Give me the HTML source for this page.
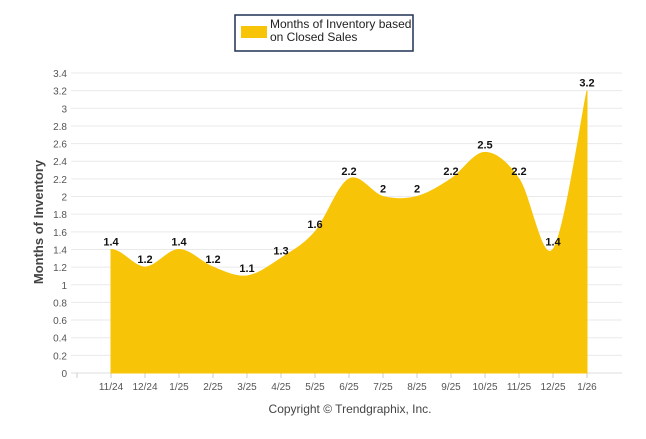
<!DOCTYPE html>
<html><head><meta charset="utf-8"><style>
body{margin:0;background:#fff;width:646px;height:434px;overflow:hidden;font-family:"Liberation Sans",sans-serif}
</style></head><body>
<svg id="c" width="646" height="434" xmlns="http://www.w3.org/2000/svg">
<g>
<rect x="235" y="15" width="178" height="36" fill="#fff" stroke="#1f3056" stroke-width="1.5"/>
<rect x="241" y="26" width="26" height="12" fill="#f7c407"/>
<text x="270" y="28" font-size="12" fill="#222">Months of Inventory based</text>
<text x="270" y="41" font-size="12" fill="#222">on Closed Sales</text>
</g>
<g id="grid"></g><g id="area"></g><g id="labels"></g>
<text transform="translate(43,222) rotate(-90)" text-anchor="middle" font-size="13" font-weight="bold" fill="#444">Months of Inventory</text>
<text x="350" y="413" text-anchor="middle" font-size="12" fill="#444">Copyright © Trendgraphix, Inc.</text>
</svg>
<script>
const categories=["11/24","12/24","1/25","2/25","3/25","4/25","5/25","6/25","7/25","8/25","9/25","10/25","11/25","12/25","1/26"];
const values=[1.4,1.2,1.4,1.2,1.1,1.3,1.6,2.2,2,2,2.2,2.5,2.2,1.4,3.2];
const yTicks=[0,0.2,0.4,0.6,0.8,1,1.2,1.4,1.6,1.8,2,2.2,2.4,2.6,2.8,3,3.2,3.4];
const NS="http://www.w3.org/2000/svg";
const X=i=>111+i*34, Y=v=>373-v*300/3.4;
const g=document.getElementById('grid');
function mk(t,a,p){const e=document.createElementNS(NS,t);for(const k in a)e.setAttribute(k,a[k]);p.appendChild(e);return e;}
yTicks.forEach(v=>{
 const l=mk('line',{x1:71,x2:622,y1:Y(v),y2:Y(v),stroke:v===0?'#ddd':'#eaeaea'},g);
 
 
 const t=mk('text',{x:67,y:Y(v)+4,'text-anchor':'end','font-size':10,fill:'#555'},g);
 
 
 t.textContent=String(v);
});
for(let i=-1;i<categories.length;i++){
 const l=mk('line',{x1:X(i),x2:X(i),y1:373,y2:378,stroke:'#ccc'},g);
 
 
}
categories.forEach((c,i)=>{
 const t=mk('text',{x:X(i),y:390,'text-anchor':'middle','font-size':10,fill:'#555'},g);
 
 
 t.textContent=c;
});
const pts=values.map((v,i)=>[X(i),Y(v)]);
let d=`M${pts[0][0]},${Y(0)}L${pts[0][0]},${pts[0][1]}`;
const sm=1.5;
for(let i=0;i<pts.length-1;i++){
 const p0=pts[Math.max(i-1,0)],p1=pts[i],p2=pts[i+1],p3=pts[Math.min(i+2,pts.length-1)];
 let c1=[p1[0]+(p2[0]-p0[0])/(2*sm*2),p1[1]+(p2[1]-p0[1])/(2*sm*2)];
 let c2=[p2[0]-(p3[0]-p1[0])/(2*sm*2),p2[1]-(p3[1]-p1[1])/(2*sm*2)];
 if(i===0)c1=[p1[0]+(p2[0]-p1[0])/3,p1[1]];
 if(i===0)c1[1]=p1[1];
 d+=`C${c1[0]},${c1[1]} ${c2[0]},${c2[1]} ${p2[0]},${p2[1]}`;
}
d+=`L${pts[pts.length-1][0]},${Y(0)}Z`;
const a=mk('path',{d:d,fill:'#f7c407',stroke:'#f7c407','stroke-width':1},document.getElementById('area'));


const lg=document.getElementById('labels');
values.forEach((v,i)=>{
 const t=mk('text',{x:X(i),y:Y(v)-4,'text-anchor':'middle','font-size':11,'font-weight':'bold',fill:'#111'},lg);
 
 
 t.textContent=String(v);
});
</script>
</body></html>
